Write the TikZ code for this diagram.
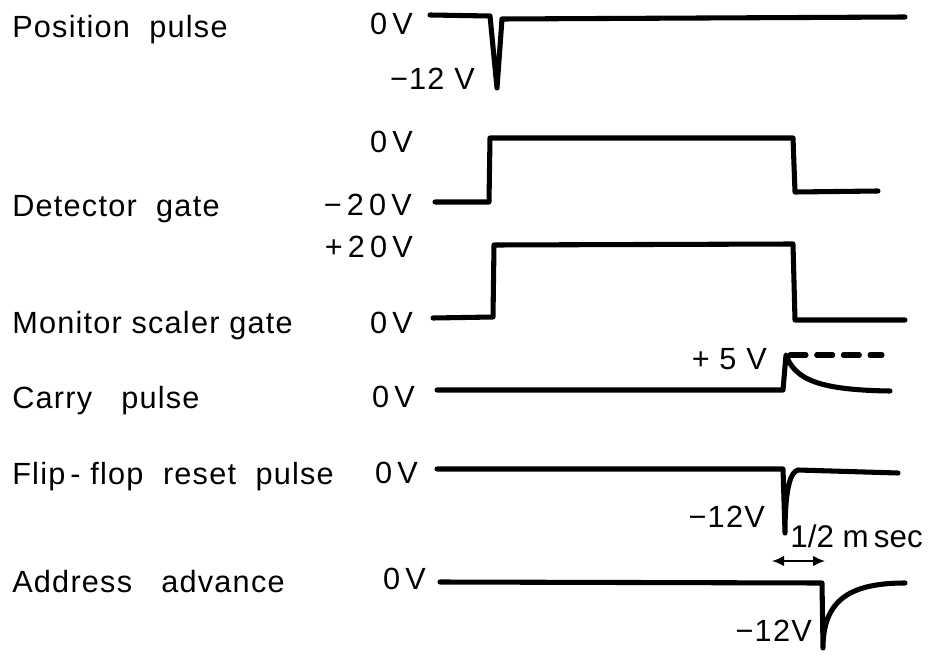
\documentclass[tikz,border=0pt]{standalone}
\usepackage{fontspec}
\setmainfont{Liberation Sans}[LetterSpace=4]
\newfontfamily\tightfont{Liberation Sans}
\usetikzlibrary{arrows.meta}
\begin{document}
\begin{tikzpicture}[x=0.75pt,y=-0.75pt,
  wave/.style={line width=3.8pt,line join=round,line cap=round},
  lbl/.style={anchor=base west,inner sep=0pt,font=\fontsize{23}{27}\selectfont},
  vlbl/.style={anchor=base east,inner sep=0pt,font=\fontsize{23}{27}\selectfont}]
\useasboundingbox (0,0) rectangle (931,656);
% left labels
\node[lbl] (l1) at (12,38) {Position\ \ pulse};
\node[lbl] (l2) at (12,216) {Detector\ \ gate};
\node[lbl] (l3) at (12,333) {Monitor\ scaler\ gate};
\node[lbl] (l4) at (12,408) {Carry\ \ \ pulse};
\node[lbl] (l5) at (12,484) {Flip\,-\ flop\ \ reset\ \ pulse};
\node[lbl] (l6) at (12,592) {Address\ \ \ advance};
% voltage labels
\node[vlbl] (v1) at (413,35) {0\,V};
\node[vlbl] (v2) at (475,90) {−12\ V};
\node[vlbl] (v3) at (413,152) {0\,V};
\node[vlbl] (v4) at (412,215) {−\,2\,0\,V};
\node[vlbl] (v5) at (413,257) {+\,2\,0\,V};
\node[vlbl] (v6) at (413,333) {0\,V};
\node[vlbl] (v7) at (767,369) {+\ 5\ V};
\node[vlbl] (v8) at (415,407) {0\,V};
\node[vlbl] (v9) at (418,483) {0\,V};
\node[vlbl] (v10) at (765,527) {−12V};
\node[anchor=base east,inner sep=0pt,font=\tightfont\fontsize{23.5}{27}\selectfont] (v11) at (923,547) {1/2\ m\,sec};
\node[vlbl] (v12) at (426,589) {0\,V};
\node[vlbl] (v13) at (812,641) {−12V};
% position pulse
\draw[wave] (430,15) -- (490,16) -- (497,88) -- (502,19) -- (905,17);
% detector gate
\draw[wave] (435,202) -- (489,202) -- (490,138) -- (793,138) -- (795,192) -- (878,191);
% monitor scaler gate
\draw[wave] (433,318) -- (493,317) -- (494,245) -- (793,244) -- (795,320) -- (905,320);
% carry pulse
\draw[wave] (437,390) -- (783,390) -- (786,355) .. controls (795,380) and (820,390) .. (890,391);
\draw[wave,dash pattern=on 12pt off 8pt] (790,355) -- (882,355);
% flip-flop reset
\draw[wave] (437,469) -- (783,469) -- (785,533) .. controls (785,490) and (790,472) .. (798,470) -- (898,473);
% arrow
\coordinate (a1) at (772,561);
\coordinate (a2) at (825,561);
\draw[line width=1.5pt,{Latex[length=9pt,width=8pt]}-{Latex[length=9pt,width=8pt]}] (a1) -- (a2);
% address advance
\draw[wave] (440,582) -- (822,583) -- (823,648) .. controls (823,600) and (850,583) .. (905,583);
\end{tikzpicture}
\end{document}
